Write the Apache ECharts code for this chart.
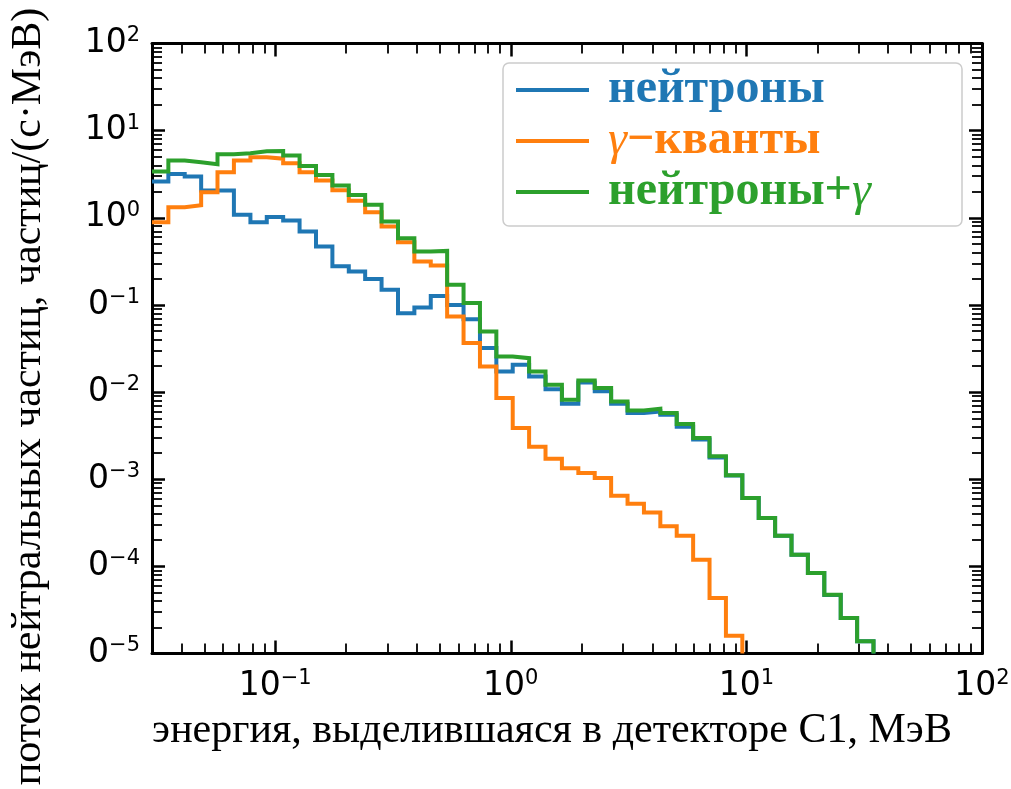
<!DOCTYPE html>
<html lang="ru">
<head>
<meta charset="UTF-8">
<title>Энерговыделение в детекторе С1</title>
<script src="https://cdn.jsdelivr.net/npm/echarts@6/dist/echarts.min.js"></script>
<style>
  html, body { margin: 0; background: #fff; }
  #chart { width: 1011px; height: 789px; }
</style>
</head>
<body>
<div id="chart"></div>
<script>
// histogram bin edges, MeV
const binEdges = [0.0300, 0.0352, 0.0413, 0.0485, 0.0569, 0.0668, 0.0785, 0.0921, 0.1081, 0.1269,
  0.1490, 0.1749, 0.2053, 0.2409, 0.2828, 0.3320, 0.3897, 0.4574, 0.5368, 0.6302,
  0.7398, 0.8683, 1.019, 1.196, 1.404, 1.648, 1.935, 2.271, 2.666, 3.130,
  3.674, 4.312, 5.061, 5.942, 6.975, 8.187, 9.610, 11.28, 13.24, 15.54,
  18.24, 21.41, 25.14, 29.51, 34.63];

// flux per bin, 1/(s*MeV)
const neutrons = [2.60, 3.19, 2.97, 2.05, 2.05, 1.08, 0.891, 1.02, 0.929, 0.695,
  0.468, 0.277, 0.242, 0.198, 0.149, 0.0805, 0.0933, 0.127, 0.100, 0.0687,
  0.0320, 0.0172, 0.0206, 0.0151, 0.0108, 0.00734, 0.0129, 0.0102, 0.00734, 0.00574,
  0.0060, 0.0055, 0.0040, 0.00285, 0.00177, 0.00110, 6.1e-4, 3.6e-4, 2.25e-4, 1.36e-4,
  8.4e-5, 4.7e-5, 2.56e-5, 1.38e-5];
const gammas = [0.891, 1.32, 1.39, 1.97, 3.33, 4.53, 4.95, 4.77, 4.23, 3.33,
  2.67, 2.07, 1.57, 1.16, 0.793, 0.525, 0.315, 0.283, 0.0736, 0.0365,
  0.0197, 0.00853, 0.00386, 0.00236, 0.00172, 0.00134, 0.00118, 0.00103, 6.47e-4, 5.24e-4,
  4.16e-4, 2.88e-4, 2.25e-4, 1.19e-4, 4.34e-5, 1.6e-5, 0, 0, 0, 0,
  0, 0, 0, 0];
const total = [3.39, 4.53, 4.34, 4.12, 5.36, 5.51, 5.80, 5.85, 5.17, 3.94,
  3.10, 2.35, 1.83, 1.41, 0.904, 0.583, 0.409, 0.417, 0.170, 0.105,
  0.0495, 0.0256, 0.0245, 0.0172, 0.0121, 0.00817, 0.0136, 0.0111, 0.0078, 0.00615,
  0.00643, 0.00574, 0.0043, 0.00297, 0.00184, 0.00111, 6.08e-4, 3.59e-4, 2.25e-4, 1.36e-4,
  8.4e-5, 4.73e-5, 2.56e-5, 1.38e-5];

const seriesNames = ['нейтроны', 'γ−кванты', 'нейтроны+γ'];
const seriesColors = ['#1f77b4', '#ff7f0e', '#2ca02c'];

const xRange = [0.03, 100];
const yRange = [1e-5, 100];
const xMajor = [0.1, 1, 10, 100];
const xDecades = [0.01, 0.1, 1, 10];
const yMajor = [1e-5, 1e-4, 1e-3, 1e-2, 1e-1, 1, 10, 100];
const yTickBase = ['0', '0', '0', '0', '0', '10', '10', '10']; // as printed in the figure
const yDecades = [1e-5, 1e-4, 1e-3, 1e-2, 1e-1, 1, 10];
const minorSteps = [2, 3, 4, 5, 6, 7, 8, 9];

const xTitle = 'энергия, выделившаяся в детекторе С1, МэВ';
const yTitle = 'поток нейтральных частиц, частиц/(с·МэВ)';

const lg = Math.log10;

function minorTicks(decades, range) {
  let out = [];
  decades.forEach(function (d) {
    minorSteps.forEach(function (k) {
      const v = d * k;
      if (v > range[0] && v < range[1]) out.push(lg(v));
    });
  });
  return out;
}

// histogram outline: flat over each bin, drop to the floor after the last filled bin
function stepLine(values) {
  let pts = [];
  let closed = false;
  for (let i = 0; i < values.length; i++) {
    if (values[i] <= 0) {
      pts.push([binEdges[i], yRange[0]]);
      closed = true;
      break;
    }
    pts.push([binEdges[i], values[i]]);
    pts.push([binEdges[i + 1], values[i]]);
  }
  if (!closed) pts.push([binEdges[values.length], yRange[0]]);
  return pts;
}

function supText(e) {
  return e < 0 ? '\u2212' + (-e) : String(e);
}

const tickFont = 'DejaVu Sans';
const powRich = {
  b: { fontFamily: tickFont, fontSize: 33, lineHeight: 36, color: '#000' },
  s: { fontFamily: tickFont, fontSize: 21, lineHeight: 24, verticalAlign: 'top', color: '#000' }
};
const blackLine = { show: true, onZero: false, lineStyle: { color: '#000', width: 3 } };
const noLine = { show: false, onZero: false };

function tickAxis(position, range, ticks, len, width, extra) {
  let ax = {
    type: 'value',
    position: position,
    min: lg(range[0]),
    max: lg(range[1]),
    axisLine: noLine,
    axisTick: { show: true, inside: true, length: len, customValues: ticks,
      lineStyle: { color: '#000', width: width } },
    axisLabel: { show: false },
    splitLine: { show: false }
  };
  return Object.assign(ax, extra || {});
}

const xMajorLog = xMajor.map(lg);
const yMajorLog = yMajor.map(lg);
const xMinorLog = minorTicks(xDecades, xRange);
const yMinorLog = minorTicks(yDecades, yRange);

const dataSets = [neutrons, gammas, total];

const chart = echarts.init(document.getElementById('chart'), null, { renderer: 'canvas' });

const option = {
  backgroundColor: '#fff',
  animation: false,
  grid: { left: 152, top: 43.5, right: 29, bottom: 135.5, outerBoundsMode: 'none' },
  graphic: [{
    type: 'rect', z: 3,
    shape: { x: 503, y: 63, width: 459, height: 163, r: 6 },
    style: { fill: '#fff', stroke: '#cccccc', lineWidth: 1.5 }
  }],
  legend: {
    orient: 'vertical',
    left: 516,
    top: 64.5,
    itemGap: 0,
    itemWidth: 73,
    itemHeight: 4,
    icon: 'rect',
    selectedMode: false,
    padding: 0,
    formatter: function (name) { return name.replace('γ', '{g|γ}'); },
    textStyle: { fontFamily: 'Liberation Serif', fontWeight: 'bold', fontSize: 48,
      lineHeight: 51, padding: [0, 0, 0, 14] },
    data: seriesNames.map(function (n, i) {
      return {
        name: n,
        itemStyle: { color: seriesColors[i] },
        textStyle: {
          color: seriesColors[i],
          rich: { g: { fontFamily: 'Liberation Serif', fontSize: 48, fontStyle: 'italic',
            fontWeight: 'normal', lineHeight: 51, color: seriesColors[i] } }
        }
      };
    })
  },
  xAxis: [
    { type: 'log', logBase: 10, min: xRange[0], max: xRange[1], show: false },
    tickAxis('bottom', xRange, xMajorLog, 13, 2.5, {
      axisLine: blackLine,
      axisLabel: {
        show: true, customValues: xMajorLog, margin: 15, rich: powRich,
        formatter: function (v) { return '{b|10}{s|' + supText(Math.round(v)) + '}'; }
      },
      name: xTitle,
      nameLocation: 'middle',
      nameGap: 45,
      nameTextStyle: { fontFamily: 'Liberation Serif', fontSize: 42, lineHeight: 46,
        color: '#000', padding: [0, 30, 0, 0] }
    }),
    tickAxis('bottom', xRange, xMinorLog, 10, 1.8),
    tickAxis('top', xRange, xMajorLog, 13, 2.5, { axisLine: blackLine }),
    tickAxis('top', xRange, xMinorLog, 10, 1.8)
  ],
  yAxis: [
    { type: 'log', logBase: 10, min: yRange[0], max: yRange[1], show: false },
    tickAxis('left', yRange, yMajorLog, 13, 2.5, {
      axisLine: blackLine,
      axisLabel: {
        show: true, customValues: yMajorLog, margin: 12, rich: powRich,
        formatter: function (v) {
          const e = Math.round(v);
          const idx = yMajorLog.findIndex(function (t) { return Math.round(t) === e; });
          return '{b|' + yTickBase[idx] + '}{s|' + supText(e) + '}';
        }
      },
      name: yTitle,
      nameLocation: 'middle',
      nameRotate: 90,
      nameGap: 100,
      nameTextStyle: { fontFamily: 'Liberation Serif', fontSize: 42, lineHeight: 46,
        color: '#000', padding: [0, 96, 0, 0] }
    }),
    tickAxis('left', yRange, yMinorLog, 10, 1.8),
    tickAxis('right', yRange, yMajorLog, 13, 2.5, { axisLine: blackLine }),
    tickAxis('right', yRange, yMinorLog, 10, 1.8)
  ],
  series: dataSets.map(function (vals, i) {
    return {
      name: seriesNames[i],
      type: 'line',
      xAxisIndex: 0,
      yAxisIndex: 0,
      data: stepLine(vals),
      showSymbol: false,
      symbol: 'none',
      clip: true,
      color: seriesColors[i],
      itemStyle: { color: seriesColors[i] },
      lineStyle: { color: seriesColors[i], width: 4, join: 'miter', cap: 'butt' },
      emphasis: { disabled: true }
    };
  })
};

chart.setOption(option);
</script>
</body>
</html>
